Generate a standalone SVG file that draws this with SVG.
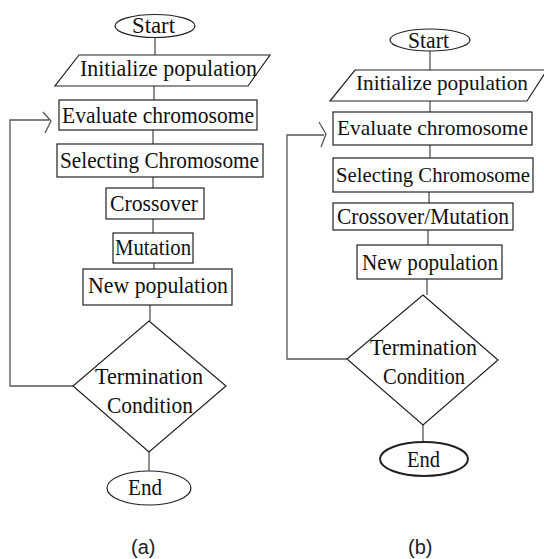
<svg xmlns="http://www.w3.org/2000/svg" width="544" height="559" viewBox="0 0 544 559">
<style>
.s{fill:#fff;stroke:#222;stroke-width:1.2}
.c{fill:none;stroke:#555;stroke-width:1.3}
.t{font-family:"Liberation Serif","DejaVu Serif",serif;font-size:24px;fill:#111;text-anchor:start}
.r{font-size:22px}
.cap{font-family:"Liberation Sans","DejaVu Sans",sans-serif;font-size:20px;fill:#222}
</style>
<rect width="544" height="559" fill="#fff"/>
<g id="connectors">
<path class="c" d="M155 38V55M154 86V100M153 130V144M153 177V188M153 219V233M154 263V269M150 305V321M149 452V471"/>
<path class="c" d="M73 386H10V120H49M43 112L51 121L45 133"/>
<path class="c" d="M430 51V70M430 101V112M430 145V158M429 192V203M428 230V245M427 279V295M423 425V442"/>
<path class="c" d="M347 359H287V135H324M319 122L326 134L321 147"/>
</g>
<g id="a-start"><ellipse class="s" cx="155" cy="26" rx="40" ry="11.5"/><text class="t" x="132" y="33" textLength="43" lengthAdjust="spacingAndGlyphs">Start</text></g>
<g id="a-init"><polygon class="s" points="79,55 270,55 248,86 55,86"/><text class="t" x="80" y="76" textLength="177" lengthAdjust="spacingAndGlyphs">Initialize population</text></g>
<g id="a-eval"><rect class="s" x="59" y="100" width="198" height="30"/><text class="t" x="62" y="123" textLength="192" lengthAdjust="spacingAndGlyphs">Evaluate chromosome</text></g>
<g id="a-select"><rect class="s" x="57" y="144" width="206" height="33"/><text class="t" x="60" y="168" textLength="199" lengthAdjust="spacingAndGlyphs">Selecting Chromosome</text></g>
<g id="a-cross"><rect class="s" x="106" y="188" width="98" height="31"/><text class="t" x="110" y="211" textLength="88" lengthAdjust="spacingAndGlyphs">Crossover</text></g>
<g id="a-mut"><rect class="s" x="113" y="233" width="80" height="30"/><text class="t" x="115" y="255" textLength="76" lengthAdjust="spacingAndGlyphs">Mutation</text></g>
<g id="a-new"><rect class="s" x="83" y="269" width="149" height="36"/><text class="t" x="88" y="293" textLength="140" lengthAdjust="spacingAndGlyphs">New population</text></g>
<g id="a-term"><polygon class="s" points="149,321 226,386 149,452 73,386"/><text class="t" x="95" y="384" textLength="108" lengthAdjust="spacingAndGlyphs">Termination</text><text class="t" x="107" y="413" textLength="86" lengthAdjust="spacingAndGlyphs">Condition</text></g>
<g id="a-end"><ellipse class="s" cx="149" cy="488" rx="42" ry="17"/><text class="t" x="128" y="495" textLength="34" lengthAdjust="spacingAndGlyphs">End</text></g>
<text class="cap" x="131" y="554">(a)</text>
<g id="b-start"><ellipse class="s" cx="430" cy="40" rx="40" ry="11"/><text class="t" x="408" y="48" textLength="41" lengthAdjust="spacingAndGlyphs">Start</text></g>
<g id="b-init"><polygon class="s" points="355,70 547,70 527,101 330,101"/><text class="t r" x="356" y="90" textLength="172" lengthAdjust="spacingAndGlyphs">Initialize population</text></g>
<g id="b-eval"><rect class="s" x="333" y="112" width="199" height="33"/><text class="t r" x="337" y="135" textLength="191" lengthAdjust="spacingAndGlyphs">Evaluate chromosome</text></g>
<g id="b-select"><rect class="s" x="333" y="158" width="200" height="34"/><text class="t r" x="336" y="182" textLength="194" lengthAdjust="spacingAndGlyphs">Selecting Chromosome</text></g>
<g id="b-cross"><rect class="s" x="333" y="203" width="180" height="27"/><text class="t" x="337" y="224" textLength="172" lengthAdjust="spacingAndGlyphs">Crossover/Mutation</text></g>
<g id="b-new"><rect class="s" x="357" y="245" width="145" height="34"/><text class="t" x="362" y="270" textLength="136" lengthAdjust="spacingAndGlyphs">New population</text></g>
<g id="b-term"><polygon class="s" points="423,295 498,360 423,425 347,359"/><text class="t" x="370" y="355" textLength="107" lengthAdjust="spacingAndGlyphs">Termination</text><text class="t" x="383" y="384" textLength="82" lengthAdjust="spacingAndGlyphs">Condition</text></g>
<g id="b-end"><ellipse class="s" cx="424" cy="459" rx="44" ry="17" style="stroke-width:2"/><text class="t" x="407" y="467" textLength="33" lengthAdjust="spacingAndGlyphs">End</text></g>
<text class="cap" x="408" y="554">(b)</text>
</svg>
